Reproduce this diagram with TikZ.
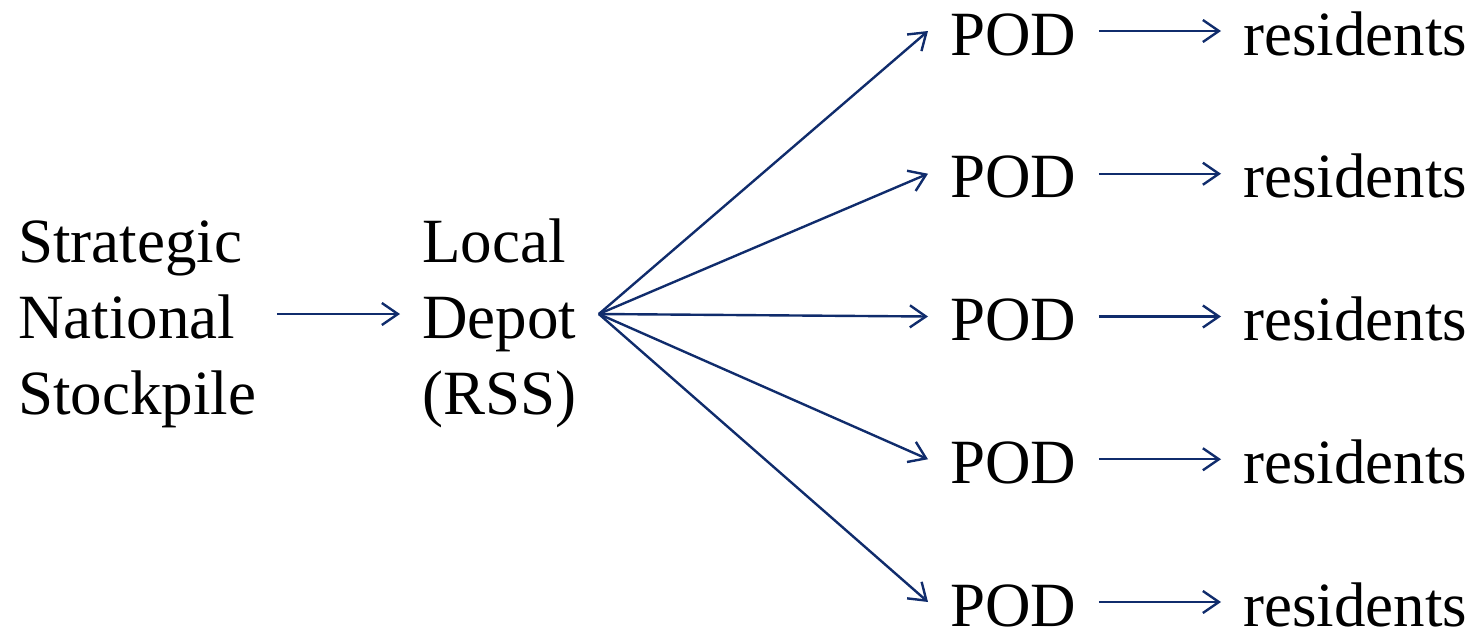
\documentclass[tikz,border=0pt]{standalone}
\usepackage{fontspec}
\setmainfont{LiberationSerif}[Extension=.ttf, UprightFont=*-Regular, BoldFont=*-Bold]
\usetikzlibrary{arrows.meta}
\definecolor{navy}{RGB}{16,44,108}
\begin{document}
\begin{tikzpicture}[x=0.5pt,y=-0.5pt,
  lbl/.style={inner ysep=0pt, inner xsep=11pt, anchor=base west,
    font=\fontsize{31.5}{38}\selectfont, text=black},
  flow/.style={draw=navy, line width=1.2pt,
    -{Straight Barb[length=8pt,width=11pt,line width=1.2pt]}}]
\useasboundingbox (0,0) rectangle (1479,632);

% supply chain sources (base anchor sits on the last line)
\node[lbl, align=left, inner xsep=10pt] (sns) at (-2,414) {Strategic\\National\\Stockpile};
\node[lbl, align=left] (depot) at (400,414) {Local\\Depot\\(RSS)};
\draw[flow] ([yshift=50pt]sns.base east) -- ([yshift=50pt]depot.base west);

% points of dispensing and the residents they serve
\foreach \i/\y in {1/55,2/197.75,3/340.5,4/483.25,5/626}{
  \node[lbl] (pod\i) at (928,\y) {POD};
  \node[lbl] (res\i) at (1221,\y) {residents};
  \draw[flow] ([yshift=12pt]pod\i.base east) -- ([yshift=12pt]res\i.base west);
  \draw[flow] ([yshift=50pt]depot.base east) -- ([yshift=12pt]pod\i.base west);
}
\end{tikzpicture}
\end{document}
